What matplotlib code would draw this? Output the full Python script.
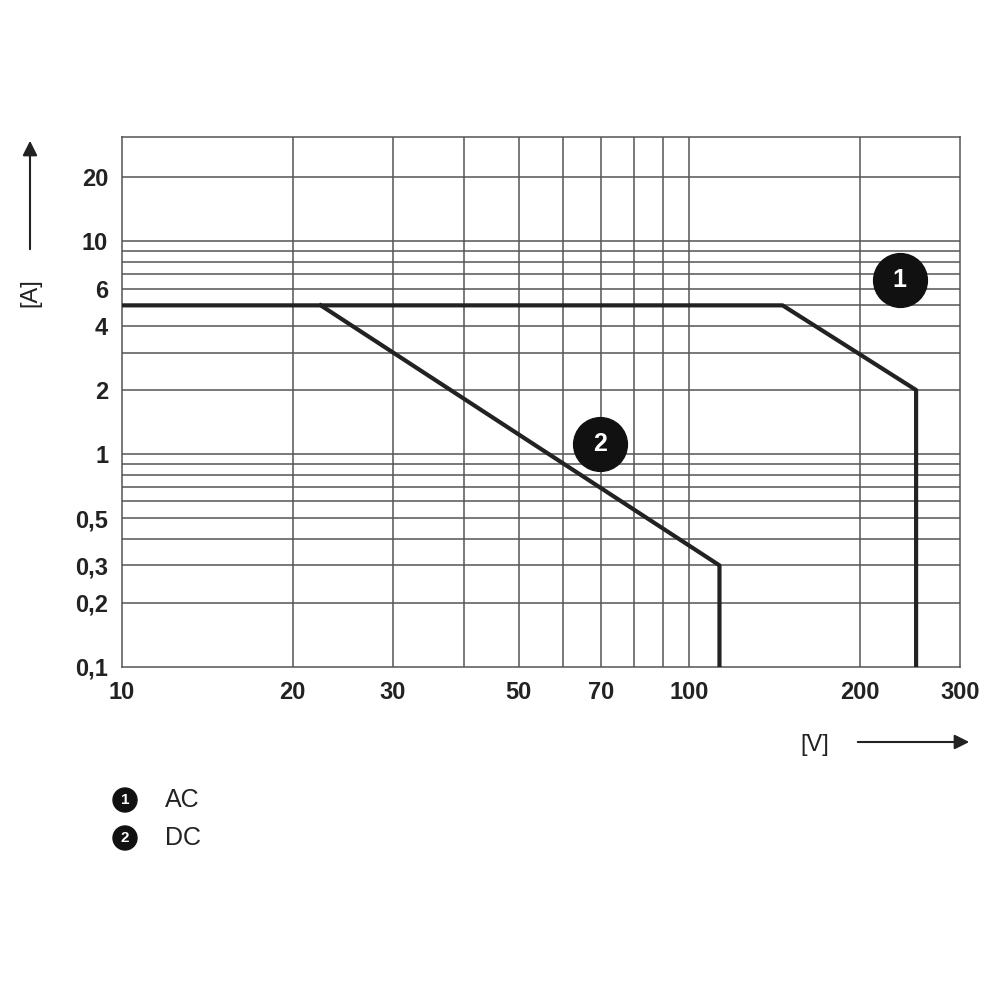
import matplotlib
matplotlib.use("Agg")
import matplotlib.pyplot as plt
from matplotlib.ticker import FixedLocator, NullLocator

plt.rcParams['font.family'] = ['Liberation Sans', 'DejaVu Sans']

ac_v = [10, 146, 251, 251]
ac_a = [5, 5, 2, 0.1]
dc_v = [22.4, 113, 113]
dc_a = [5, 0.3, 0.1]
xticks = [10, 20, 30, 50, 70, 100, 200, 300]
xtick_labels = ['10', '20', '30', '50', '70', '100', '200', '300']
yticks = [0.1, 0.2, 0.3, 0.5, 1, 2, 4, 6, 10, 20]
ytick_labels = ['0,1', '0,2', '0,3', '0,5', '1', '2', '4', '6', '10', '20']
xgrid = [20, 30, 40, 50, 60, 70, 80, 90, 100, 200]
ygrid = [0.2, 0.3, 0.4, 0.5, 0.6, 0.7, 0.8, 0.9, 1, 2, 3, 4, 5, 6, 7, 8, 9, 10, 20]

fig = plt.figure(figsize=(9.88, 9.88), dpi=100)
ax = fig.add_axes([0.1235, 0.325, 0.8482, 0.536])
ax.set_xscale('log'); ax.set_yscale('log')
ax.set_xlim(10, 300); ax.set_ylim(0.1, 30.8)
for g in xgrid:
    ax.axvline(g, color='#555555', lw=1.1, zorder=1)
for g in ygrid:
    ax.axhline(g, color='#555555', lw=1.1, zorder=1)
ax.plot(ac_v, ac_a, color='#222222', lw=3, zorder=3)
ax.plot(dc_v, dc_a, color='#222222', lw=3, zorder=3)
for s in ax.spines.values():
    s.set_color('#555555'); s.set_linewidth(1.1)
ax.xaxis.set_major_locator(FixedLocator(xticks))
ax.xaxis.set_minor_locator(NullLocator())
ax.set_xticklabels(xtick_labels)
ax.yaxis.set_major_locator(FixedLocator(yticks))
ax.yaxis.set_minor_locator(NullLocator())
ax.set_yticklabels(ytick_labels)
ax.tick_params(length=0, labelsize=17, pad=10)
for t in ax.get_xticklabels() + ax.get_yticklabels():
    t.set_fontweight('bold'); t.set_color('#222222')

def badge(x, y, n, size=42, fs=17, trans=None):
    kw = dict(transform=trans) if trans is not None else {}
    ax.scatter([x], [y], s=size**2 / 1.0, color='#111111', zorder=5, clip_on=False, **kw) if trans is None else None

ax.scatter([235], [6.6], s=1500, color='#111111', zorder=5)
ax.text(235, 6.6, '1', color='white', fontsize=18, fontweight='bold', ha='center', va='center', zorder=6)
ax.scatter([69.5], [1.11], s=1500, color='#111111', zorder=5)
ax.text(69.5, 1.11, '2', color='white', fontsize=18, fontweight='bold', ha='center', va='center', zorder=6)

# axis labels with arrows
fig.text(30/988, 1-293/988, '[A]', rotation=90, fontsize=17, ha='center', va='center', color='#222222')
fig.add_artist(matplotlib.patches.FancyArrowPatch((30/988, 1-252/988), (30/988, 1-138/988),
    transform=fig.transFigure, arrowstyle='-|>', mutation_scale=22, color='#222222', lw=1.5))
fig.text(815/988, 1-745/988, '[V]', fontsize=17, ha='center', va='center', color='#222222')
fig.add_artist(matplotlib.patches.FancyArrowPatch((855/988, 1-742/988), (972/988, 1-742/988),
    transform=fig.transFigure, arrowstyle='-|>', mutation_scale=22, color='#222222', lw=1.5))

# legend
for i, (yy, lab) in enumerate([(800, 'AC'), (838, 'DC')]):
    fig.add_artist(matplotlib.patches.Circle((125/988, 1-yy/988), 12/988, transform=fig.transFigure, color='#111111'))
    fig.text(125/988, 1-yy/988, str(i+1), color='white', fontsize=11, fontweight='bold', ha='center', va='center')
    fig.text(165/988, 1-yy/988, lab, fontsize=18, ha='left', va='center', color='#222222')

fig.savefig('out.png', dpi=100, facecolor='white')
